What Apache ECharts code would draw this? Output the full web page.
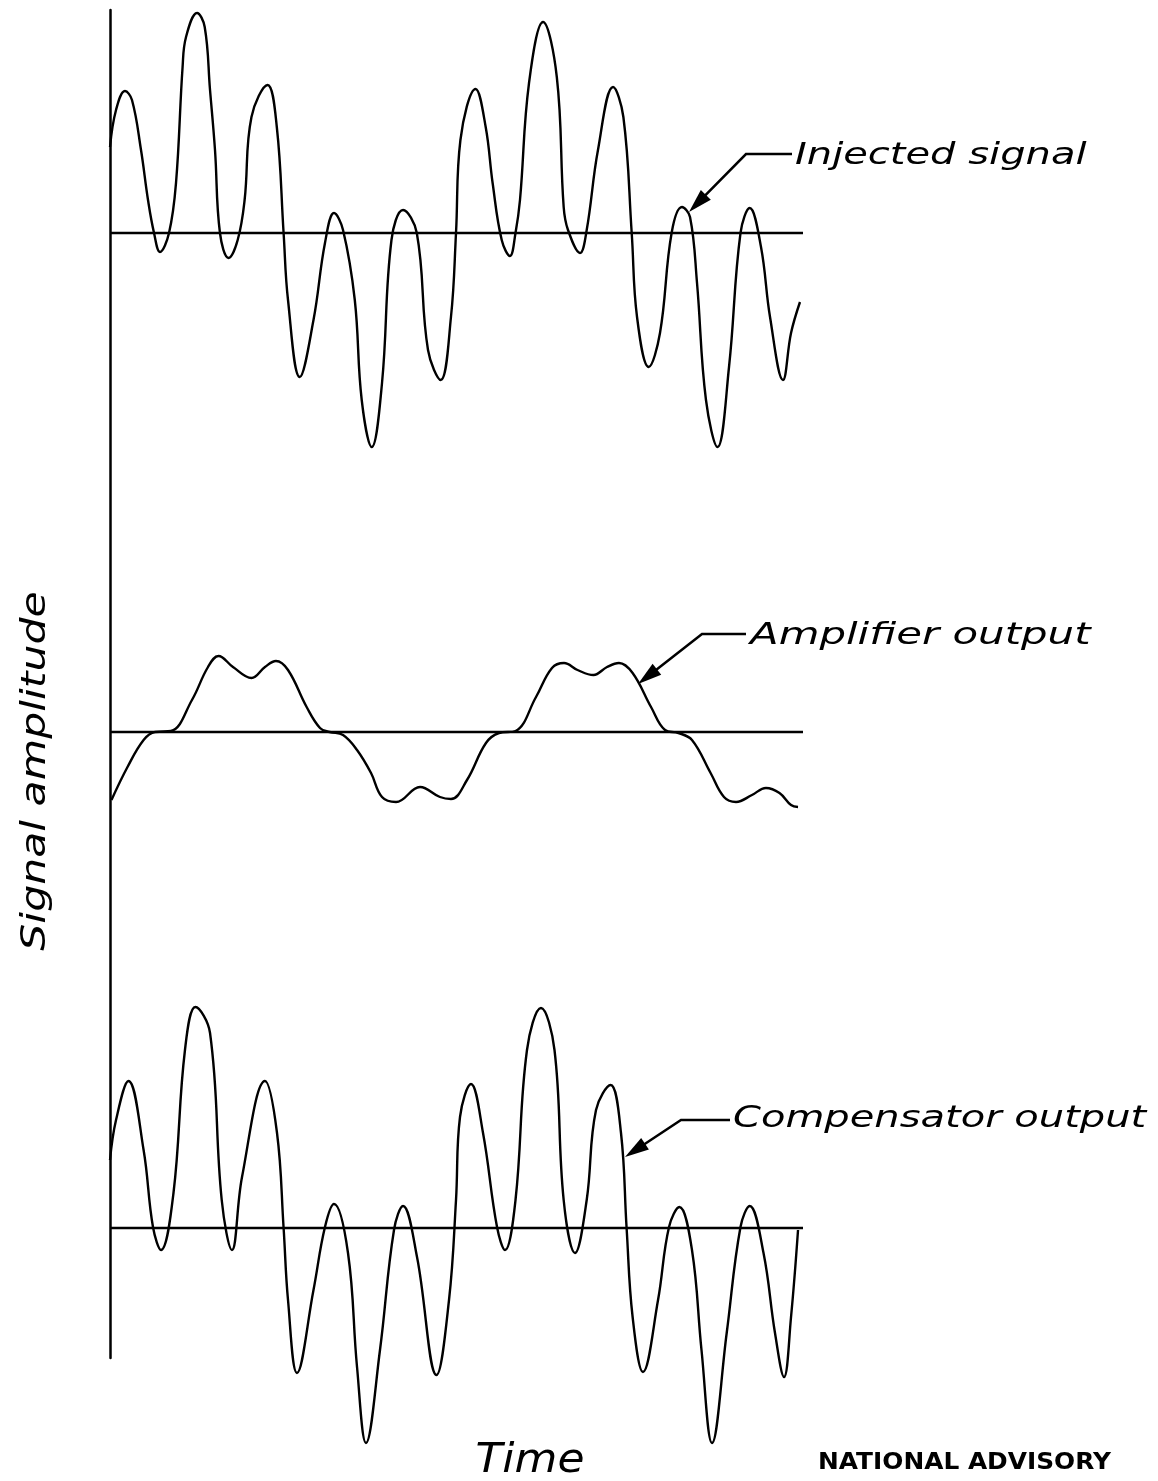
<!DOCTYPE html>
<html><head><meta charset="utf-8">
<script src="https://cdn.jsdelivr.net/npm/echarts@6/dist/echarts.min.js"></script>
<style>html,body{margin:0;padding:0;background:#fff}#c{width:1158px;height:1481px}</style>
</head><body><div id="c"></div>
<script>
// Time (arbitrary units) and amplitude readings for each trace
const injectedT = [0,0.86,2.14,3.14,4.43,5.43,6.29,7.14,8.43,9.43,10.37,10.86,12.43,13.53,14.29,15.0,15.71,16.94,18.24,19.23,20.21,22.51,23.83,24.8,25.43,27.1,29.07,30.71,32.0,33.29,34.97,35.96,37.4,38.86,40.21,41.86,43.83,45.43,47.24,48.71,49.43,50.06,52.23,53.67,54.66,55.96,57.14,57.93,58.57,59.86,61.86,63.83,64.81,65.43,67.14,68.1,69.71,71.86,73.34,74.53,75.29,76.96,78.57,80.23,81.71,82.86,83.86,85.14,86.79,88.43,90.07,91.39,93.0,94.29,96.14,97.29,98.57];
const injectedA = [0.86,1.23,1.42,1.33,0.83,0.33,0,-0.19,0,0.5,1.66,1.96,2.20,2.06,1.43,0.83,0,-0.25,-0.07,0.33,1.16,1.48,1.06,0,-0.67,-1.44,-0.87,-0.10,0.20,0.03,-0.67,-1.67,-2.14,-1.5,-0.07,0.23,0,-1.17,-1.47,-0.84,0,0.93,1.44,1.06,0.5,-0.07,-0.23,0,0.33,1.5,2.11,1.56,0.26,0.03,-0.2,0.03,0.83,1.46,1.16,0,-0.84,-1.34,-1.0,0,0.26,0.16,-0.5,-1.67,-2.14,-1.34,0,0.25,-0.14,-0.84,-1.47,-1.0,-0.69];

const amplifierT = [0.21,2.5,4.8,6.43,8.71,11.71,14.0,15.5,17.57,20.21,22.14,23.71,25.43,28.09,30.0,31.37,33.29,35.29,37.29,38.86,40.86,44.29,47.14,48.71,51.0,53.71,55.57,57.93,60.86,63.14,64.86,66.79,69.07,71.0,72.71,74.66,77.29,79.29,81.21,83.14,85.8,87.71,89.43,91.71,93.71,95.64,97.29,98.29];
const amplifierA = [-0.68,-0.35,-0.08,0,0.01,0.32,0.65,0.76,0.65,0.54,0.65,0.71,0.62,0.25,0.04,0,-0.03,-0.18,-0.41,-0.65,-0.70,-0.55,-0.65,-0.67,-0.48,-0.11,-0.01,0.01,0.35,0.64,0.69,0.62,0.57,0.65,0.69,0.59,0.25,0.02,-0.01,-0.08,-0.41,-0.65,-0.70,-0.63,-0.56,-0.61,-0.73,-0.75];

const compensatorT = [0,0.86,2.64,4.8,6.14,7.29,9.07,10.71,12.21,14.29,15.96,17.43,18.86,22.14,23.86,24.8,25.43,26.71,29.07,30.71,32.0,34.0,35.29,36.57,38.57,40.57,41.86,43.86,46.64,48.43,49.43,50.0,51.57,53.29,55.29,56.43,57.93,59.57,61.57,63.5,64.81,66.43,68.1,69.43,71.51,73.0,73.8,74.66,76.14,78.29,79.86,81.34,83.14,84.5,86.0,88.1,90.07,91.39,93.36,95.0,96.29,97.29,98.29];
const compensatorA = [0.68,1.08,1.47,0.78,0.01,-0.22,0.35,1.78,2.21,1.95,0.28,-0.22,0.51,1.47,0.95,0,-0.72,-1.45,-0.62,0.01,0.24,-0.25,-1.39,-2.15,-1.22,-0.02,0.22,-0.29,-1.47,-0.72,0.28,1.11,1.44,0.95,0.01,-0.22,0.28,1.78,2.2,1.78,0.28,-0.25,0.28,1.18,1.43,0.95,0,-0.89,-1.44,-0.72,0.01,0.21,-0.22,-1.22,-2.15,-1.05,0.01,0.22,-0.25,-1.05,-1.49,-0.89,-0.02];

const baselineT = [0, 99];
const traceNames = ['Injected signal', 'Amplifier output', 'Compensator output'];
const yAxisTitle = 'Signal amplitude';
const xAxisTitle = 'Time';
const footer = 'NATIONAL ADVISORY';

const zip = (t, a) => t.map((v, i) => [v, a[i]]);
const traces = [zip(injectedT, injectedA), zip(amplifierT, amplifierA), zip(compensatorT, compensatorA)];

const chart = echarts.init(document.getElementById('c'), null, {renderer: 'canvas'});
const gridTops = [3, 502, 998];
const grids = gridTops.map(t => ({left: 110, top: t, width: 693, height: 460}));
grids.push({left: 110, top: 10, width: 693, height: 1348});
const xAxes = grids.map((g, i) => ({gridIndex: i, type: 'value', min: 0, max: 99, show: false}));
const yAxes = gridTops.map((t, i) => ({gridIndex: i, type: 'value', min: -2.3, max: 2.3, show: false}));
yAxes.push({gridIndex: 3, type: 'value', min: 0, max: 1, show: true,
  axisLine: {show: true, lineStyle: {color: '#000', width: 2.5}},
  axisTick: {show: false}, axisLabel: {show: false}, splitLine: {show: false}});

const series = [];
traces.forEach((d, i) => {
  series.push({type: 'line', name: traceNames[i], xAxisIndex: i, yAxisIndex: i, data: d,
    smooth: 0.4, showSymbol: false, symbol: 'none', lineStyle: {color: '#000', width: 2.4}, z: 3});
  series.push({type: 'line', xAxisIndex: i, yAxisIndex: i, data: baselineT.map(t => [t, 0]),
    showSymbol: false, symbol: 'none', lineStyle: {color: '#000', width: 2.5}, z: 2});
});

const labelFont = 'italic 300 31px "DejaVu Sans"';
function arrow(ex, ey, kx, ky, tx, ty) {
  const dx = tx - kx, dy = ty - ky, L = Math.hypot(dx, dy);
  const ux = dx / L, uy = dy / L, len = 24, hw = 7;
  const bx = tx - ux * len, by = ty - uy * len;
  return [
    {type: 'polyline', shape: {points: [[ex, ey], [kx, ky], [bx + ux * 4, by + uy * 4]]}, style: {stroke: '#000', lineWidth: 2.5, fill: null}},
    {type: 'polygon', shape: {points: [[tx, ty], [bx - uy * hw, by + ux * hw], [bx + uy * hw, by - ux * hw]]}, style: {fill: '#000'}}
  ];
}
function label(text, x, y, sx, font, extra) {
  return Object.assign({type: 'text', x: x, y: y, scaleX: sx,
    style: {text: text, x: 0, y: 0, font: font, fill: '#000', textVerticalAlign: 'middle'}}, extra || {});
}
const graphic = [].concat(
  arrow(792, 154, 746, 154, 689, 212),
  arrow(746, 634, 702, 634, 638, 684),
  arrow(730, 1120, 681, 1120, 625, 1157),
  [
    label(traceNames[0], 795, 156, 1.29, labelFont),
    label(traceNames[1], 750, 636, 1.35, labelFont),
    label(traceNames[2], 733, 1119, 1.29, labelFont),
    {type: 'text', x: 36, y: 771, rotation: Math.PI / 2, scaleX: 1.29,
      style: {text: yAxisTitle, x: 0, y: 0, font: 'italic 300 33px "DejaVu Sans"', fill: '#000', textAlign: 'center', textVerticalAlign: 'middle'}},
    {type: 'text', x: 530, y: 1462, scaleX: 1.1,
      style: {text: xAxisTitle, x: 0, y: 0, font: 'italic 300 40px "DejaVu Sans"', fill: '#000', textAlign: 'center', textVerticalAlign: 'middle'}},
    label(footer, 818, 1463, 1.08, 'bold 23px "DejaVu Sans"')
  ]
);

chart.setOption({
  backgroundColor: '#fff', animation: false,
  grid: grids, xAxis: xAxes, yAxis: yAxes, series: series, graphic: graphic
});
</script></body></html>
